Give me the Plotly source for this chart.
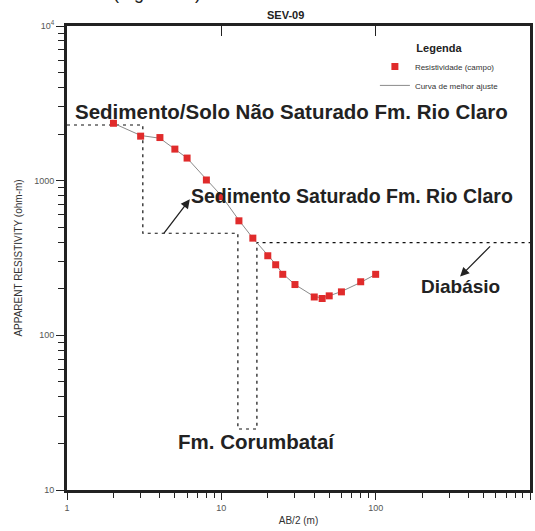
import math
import plotly.graph_objects as go

# ---- data ----
ab2 = [2, 3, 4, 5, 6, 8, 10, 13, 16, 20, 22.5, 25, 30, 40, 45, 50, 60, 80, 100]
rho_field = [2350, 1940, 1900, 1600, 1400, 1010, 790, 550, 425, 327, 286, 248,
             213, 177, 173, 180, 191, 222, 248]
fit_x = [2, 3, 4, 5, 6, 8, 10, 13, 16, 20, 22.5, 25, 30, 40, 45, 50, 60, 80, 100]
fit_rho = [2350, 1960, 1880, 1610, 1400, 1020, 800, 555, 425, 330, 288, 250,
           213, 178, 175, 180, 192, 220, 248]
model_x = [1, 3.1, 3.1, 12.8, 12.8, 17, 17, 1000]
model_rho = [2290, 2290, 457, 457, 24.8, 24.8, 398, 398]

x_major = [1, 10, 100, 1000]
x_major_text = ["1", "10", "100", "1000"]
y_major = [10, 100, 1000, 10000]
y_major_text = ["10", "100", "1000", "10<sup>4</sup>"]
top_ticks = [10, 100]

FONT = "Liberation Sans, Arial, sans-serif"
minor_x = [m * 10 ** e for e in range(0, 3) for m in range(2, 10)]
minor_y = [m * 10 ** e for e in range(1, 4) for m in range(2, 10)]

fig = go.Figure()
fig.add_trace(go.Scatter(x=model_x, y=model_rho, mode="lines",
                         line=dict(color="#111", width=1.2, dash="3px,4px"),
                         showlegend=False, hoverinfo="skip"))
fig.add_trace(go.Scatter(x=fit_x, y=fit_rho, mode="lines",
                         line=dict(color="#8a8a8a", width=1),
                         name="Curva de melhor ajuste", legendrank=2))
fig.add_trace(go.Scatter(x=ab2, y=rho_field, mode="markers",
                         marker=dict(symbol="square", size=7, color="#e02b2b",
                                     line=dict(width=0)),
                         name="Resistividade (campo)", legendrank=1))
# invisible trace binding the top axis
fig.add_trace(go.Scatter(x=top_ticks, y=[10, 10], xaxis="x2", mode="markers",
                         marker=dict(opacity=0), showlegend=False, hoverinfo="skip"))

annots = [
    dict(text="<b>Sedimento/Solo Não Saturado Fm. Rio Claro</b>", x=0.04, y=3.444,
         xanchor="left", yanchor="middle", showarrow=False,
         font=dict(size=20.5, color="#222", family=FONT)),
    dict(text="<b>Sedimento Saturado Fm. Rio Claro</b>", x=0.792, y=2.901,
         xanchor="left", yanchor="middle", showarrow=False,
         font=dict(size=19.5, color="#222", family=FONT)),
    dict(text="<b>Diabásio</b>", x=2.28, y=2.316,
         xanchor="left", yanchor="middle", showarrow=False,
         font=dict(size=19, color="#222", family=FONT)),
    dict(text="<b>Fm. Corumbataí</b>", x=0.706, y=1.313,
         xanchor="left", yanchor="middle", showarrow=False,
         font=dict(size=20.5, color="#222", family=FONT)),
    # arrows
    dict(text="", x=0.796, y=2.880, ax=0.620, ay=2.649, axref="x", ayref="y",
         showarrow=True, arrowhead=2, arrowsize=1.4, arrowwidth=1.3, arrowcolor="#222"),
    dict(text="", x=2.547, y=2.380, ax=2.751, ay=2.585, axref="x", ayref="y",
         showarrow=True, arrowhead=2, arrowsize=1.4, arrowwidth=1.3, arrowcolor="#222"),
    # title
    dict(text="<b>SEV-09</b>", xref="paper", yref="paper", x=0.4715, y=1,
         xanchor="center", yanchor="bottom", yshift=3, showarrow=False,
         font=dict(size=11, color="#222", family=FONT)),
    # clipped caption from the source page
    dict(text="(Figura 13)", xref="paper", yref="paper", x=0.195, y=1,
         xanchor="center", yanchor="bottom", yshift=21, showarrow=False,
         font=dict(size=18, color="#222", family=FONT)),
]

fig.update_layout(
    width=535, height=531,
    margin=dict(l=67, r=2, t=26, b=41),
    paper_bgcolor="white", plot_bgcolor="white",
    font=dict(family=FONT, color="#444"),
    annotations=annots,
    showlegend=True,
    legend=dict(x=0.665, y=0.975, xanchor="left", yanchor="top",
                bgcolor="rgba(0,0,0,0)", itemwidth=30,
                font=dict(size=8, color="#333", family=FONT),
                title=dict(text="<b>Legenda</b>", side="top center",
                           font=dict(size=11, color="#222", family=FONT)),
                tracegroupgap=0),
    xaxis=dict(type="log", range=[0, 3], showgrid=False, zeroline=False,
               showline=True, linewidth=3, linecolor="#222", mirror=True,
               ticks="outside", ticklen=7, tickwidth=1, tickcolor="#222",
               tickmode="array", tickvals=x_major, ticktext=x_major_text,
               tickfont=dict(size=9, color="#555", family=FONT),
               minor=dict(ticks="outside", ticklen=5, tickcolor="#222",
                          tickmode="array", tickvals=minor_x, showgrid=False),
               title=dict(text="AB/2 (m)", standoff=6,
                          font=dict(size=10, color="#333", family=FONT))),
    xaxis2=dict(type="log", range=[0, 3], overlaying="x", side="top",
                showgrid=False, zeroline=False, showline=False,
                ticks="inside", ticklen=10, tickwidth=1, tickcolor="#222",
                tickmode="array", tickvals=top_ticks, showticklabels=False),
    yaxis=dict(type="log", range=[1, 4], showgrid=False, zeroline=False,
               showline=True, linewidth=3, linecolor="#222", mirror=True,
               ticks="outside", ticklen=8, tickwidth=1, tickcolor="#222",
               tickmode="array", tickvals=y_major, ticktext=y_major_text,
               tickfont=dict(size=9, color="#555", family=FONT),
               minor=dict(ticks="outside", ticklen=6, tickcolor="#222",
                          tickmode="array", tickvals=minor_y, showgrid=False),
               title=dict(text="APPARENT RESISTIVITY (ohm-m)", standoff=10,
                          font=dict(size=10, color="#333", family=FONT))),
)

fig.write_html("out.html", config={"displayModeBar": False},
               post_script="document.body.style.margin='0px';document.body.style.overflow='hidden';")
